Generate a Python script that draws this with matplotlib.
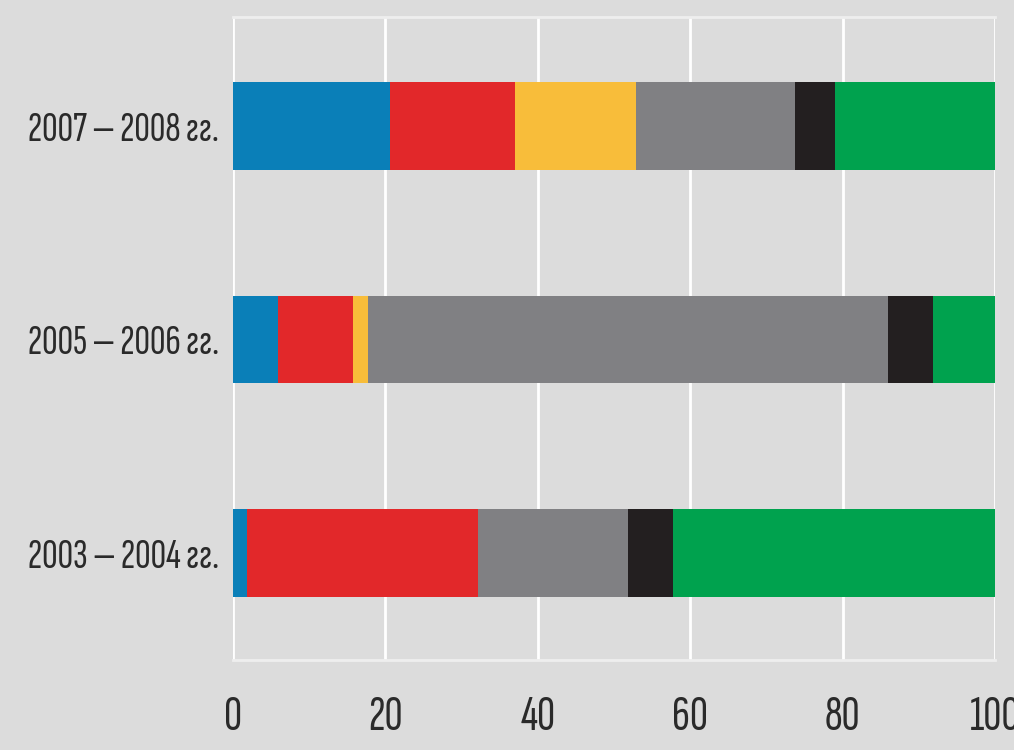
import numpy as np
import matplotlib
import matplotlib.pyplot as plt
matplotlib.use('agg')

# periods, bottom to top
periods = ["2003 — 2004 гг.", "2005 — 2006 гг.", "2007 — 2008 гг."]
# segment shares (%) per period, same order as periods
blue = [1.8, 5.9, 20.6]
red = [30.4, 9.8, 16.4]
yellow = [0.0, 2.0, 15.9]
grey = [19.6, 68.3, 20.9]
black = [5.9, 5.9, 5.2]
green = [42.3, 8.1, 21.0]
ticks = [0, 20, 40, 60, 80, 100]

colors = ['#0a7fb8', '#e2282a', '#f8bd3a', '#808083', '#231f20', '#00a24e']
series = [blue, red, yellow, grey, black, green]

bg = '#dcdcdc'
fig = plt.figure(figsize=(10.14, 7.5), dpi=100, facecolor=bg)
ax = fig.add_axes([0.2298, 0.12, 0.7515, 0.857])
ax.set_facecolor(bg)

y = np.arange(len(periods))
left = np.zeros(len(periods))
for vals, c in zip(series, colors):
    ax.barh(y, vals, left=left, height=0.41, color=c, zorder=3)
    left = left + np.array(vals)

ax.set_xlim(0, 100)
ax.set_ylim(-0.5, 2.51)
ax.set_xticks(ticks)
ax.set_xticklabels([str(t) for t in ticks])
ax.set_yticks(y)
ax.set_yticklabels(periods)
ax.grid(axis='x', color='white', lw=2, zorder=1)
ax.tick_params(length=0)
ax.tick_params(axis='x', pad=25)
ax.tick_params(axis='y', pad=10)
fams = ['Sofia Sans Extra Condensed', 'Fira Sans Extra Condensed', 'DejaVu Sans']
for lab in ax.get_xticklabels():
    lab.set_family(fams)
    lab.set_fontsize(36)
    lab.set_color('#2a2a2a')
for lab in ax.get_yticklabels():
    lab.set_family(fams)
    lab.set_fontsize(31)
    lab.set_color('#2a2a2a')
for side in ['left', 'right']:
    ax.spines[side].set_visible(False)
for side in ['top', 'bottom']:
    ax.spines[side].set_color('#eeeeee')
    ax.spines[side].set_linewidth(2)

plt.savefig('out.png', dpi=100, facecolor=bg)
